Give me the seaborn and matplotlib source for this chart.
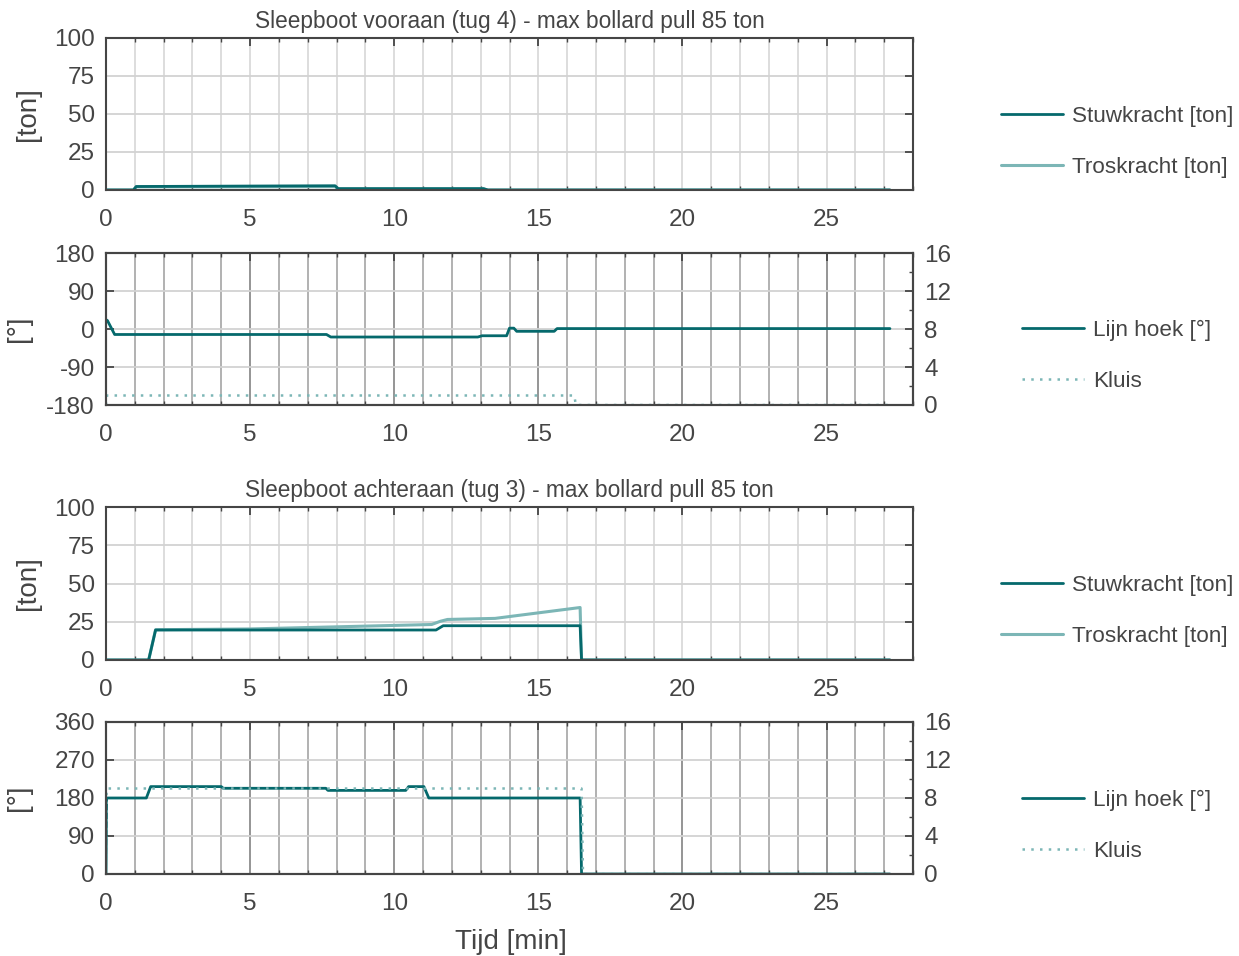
import matplotlib
matplotlib.use("Agg")
import matplotlib.pyplot as plt
import seaborn as sns
from matplotlib.ticker import MultipleLocator

# -------------------------------
# DATA
# -------------------------------
# tug 4 (vooraan) - forces [ton]
t_stuw_voor = [0, 0.95, 1.05, 5.0, 7.95, 8.05, 13.1, 13.25, 27.2]
stuw_voor = [0, 0, 2.3, 2.6, 2.8, 0.9, 0.9, 0, 0]
t_tros_voor = [0, 0.95, 1.05, 5.0, 7.95, 8.05, 13.1, 13.25, 27.2]
tros_voor = [0, 0, 2.1, 2.1, 2.2, 0.7, 0.7, 0, 0]

# tug 4 (vooraan) - line angle [deg] and kluis
t_hoek_voor = [0, 0.05, 0.3, 7.65, 7.8, 12.9, 13.05, 13.9, 14.0, 14.15, 14.25, 15.55, 15.65, 27.2]
hoek_voor = [22, 20, -13, -13, -19, -19, -16, -16, 2, 2, -5.5, -5.5, 1, 1]
t_kluis_voor = [0, 0.02, 16.25, 16.3, 27.2]
kluis_voor = [0, 1, 1, 0, 0]

# tug 3 (achteraan) - forces [ton]
t_stuw_achter = [0, 1.48, 1.72, 11.45, 11.7, 16.45, 16.5, 27.2]
stuw_achter = [0, 0, 19.6, 19.6, 22.4, 22.4, 0, 0]
t_tros_achter = [0, 1.48, 1.72, 5.0, 11.3, 11.6, 11.85, 13.5, 16.45, 16.5, 27.2]
tros_achter = [0, 0, 19.8, 20.3, 23.2, 25.3, 26.5, 27.2, 34.3, 0, 0]

# tug 3 (achteraan) - line angle [deg] and kluis
t_hoek_achter = [0, 0.02, 1.4, 1.55, 4.0, 4.07, 7.63, 7.7, 10.4, 10.5, 11.03, 11.2, 16.45, 16.5, 27.2]
hoek_achter = [0, 180, 180, 207, 207, 203, 203, 198, 198, 207, 207, 180, 180, 0, 0]
t_kluis_achter = [0, 0.02, 16.5, 16.55, 27.2]
kluis_achter = [0, 9, 9, 0, 0]

DARK = "#05696c"
LIGHT = "#7cb6b6"
TEXT = "#454545"

sns.set_style("white")
plt.rcParams["font.family"] = ["Liberation Sans", "DejaVu Sans"]
plt.rcParams["axes.unicode_minus"] = False
plt.rcParams["text.color"] = TEXT
plt.rcParams["axes.labelcolor"] = TEXT

W, H = 1239, 956
fig = plt.figure(figsize=(W / 100, H / 100), dpi=100)

TICK_FS = 17.5
LEG_FS = 16.2


def make_axes(top_px, bottom_px):
    return fig.add_axes([106 / W, 1 - bottom_px / H, (913 - 106) / W, (bottom_px - top_px) / H])


def add_legend(ax, handles, labels, x_px, y_px):
    ax.legend(handles, labels, loc="center left", bbox_to_anchor=(x_px / W, 1 - y_px / H),
              bbox_transform=fig.transFigure, frameon=False, fontsize=LEG_FS,
              handlelength=2.75, handletextpad=0.4, labelspacing=1.35)


def style_axes(ax, yticks, twin=False):
    ax.set_xlim(0, 28)
    ax.set_ylim(yticks[0], yticks[-1])
    ax.set_yticks(yticks)
    ax.xaxis.set_major_locator(MultipleLocator(5))
    ax.xaxis.set_minor_locator(MultipleLocator(1))
    ax.set_xticks(range(0, 30, 5))
    ax.tick_params(axis="both", which="major", direction="in", labelsize=TICK_FS, length=6,
                   width=1.3, top=True, right=not twin, colors=TEXT)
    ax.tick_params(axis="x", which="major", pad=14)
    ax.tick_params(axis="y", which="major", pad=8)
    ax.tick_params(axis="x", which="minor", direction="in", length=3, width=1,
                   top=True, bottom=True, colors=TEXT)
    if twin:
        ax.grid(True, which="major", axis="x", color="#8c8c8c", linewidth=1.3)
        ax.grid(True, which="minor", axis="x", color="#ababab", linewidth=1.3)
    else:
        ax.grid(True, which="both", axis="x", color="#dadada", linewidth=1.3)
    ax.grid(True, which="major", axis="y", color="#d2d2d2", linewidth=1.3)
    for s in ax.spines.values():
        s.set_color(TEXT)
        s.set_linewidth(1.5)
    ax.set_xlabel("")


def line(ax, t, v, color, ls="-", lw=2.0, label=None):
    sns.lineplot(x=t, y=v, ax=ax, color=color, linestyle=ls, linewidth=lw,
                 estimator=None, sort=False, label=label, legend=False)


def force_panel(top, bottom, t_s, s, t_t, tr, title, legend_y):
    ax = make_axes(top, bottom)
    line(ax, t_t, tr, LIGHT, lw=2.2, label="Troskracht [ton]")
    line(ax, t_s, s, DARK, lw=2.0, label="Stuwkracht [ton]")
    style_axes(ax, [0, 25, 50, 75, 100])
    ax.set_ylabel("[ton]", fontsize=20)
    ax.yaxis.set_label_coords((41 - 106) / 807, 0.5)
    ax.set_title(title, fontsize=16.3, pad=7)
    h, l = ax.get_legend_handles_labels()
    add_legend(ax, h[::-1], l[::-1], 981, legend_y)
    return ax


def angle_panel(top, bottom, t_h, h_vals, yticks, t_k, k_vals, legend_y, last=False):
    ax = make_axes(top, bottom)
    line(ax, t_h, h_vals, DARK, lw=2.0, label="Lijn hoek [°]")
    style_axes(ax, yticks, twin=True)
    ax.set_ylabel("[°]", fontsize=20)
    ax.yaxis.set_label_coords((32 - 106) / 807, 0.5)
    ax2 = ax.twinx()
    line(ax2, t_k, k_vals, LIGHT, ls=(0, (1, 2.5)), lw=1.8, label="Kluis")
    ax2.set_ylim(0, 16)
    ax2.set_yticks([0, 4, 8, 12, 16])
    ax2.yaxis.set_minor_locator(MultipleLocator(2))
    ax2.tick_params(axis="y", which="major", direction="in", labelsize=TICK_FS, length=6,
                    width=1.3, pad=8, colors=TEXT)
    ax2.tick_params(axis="y", which="minor", direction="in", length=3, width=1, colors=TEXT)
    ax2.set_ylabel("")
    for s in ax2.spines.values():
        s.set_color(TEXT)
        s.set_linewidth(1.5)
    h1, l1 = ax.get_legend_handles_labels()
    h2, l2 = ax2.get_legend_handles_labels()
    add_legend(ax2, h1 + h2, l1 + l2, 1002, legend_y)
    if last:
        ax.set_xlabel("Tijd [min]", fontsize=20)
        ax.xaxis.set_label_coords((511 - 106) / 807, -(929 - 874) / (874 - 722))
    return ax


# -------------------------------
# PANELS
# -------------------------------
force_panel(38, 190, t_stuw_voor, stuw_voor, t_tros_voor, tros_voor,
            "Sleepboot vooraan (tug 4) - max bollard pull 85 ton", 142)
angle_panel(253, 405, t_hoek_voor, hoek_voor, [-180, -90, 0, 90, 180],
            t_kluis_voor, kluis_voor, 356)
force_panel(507, 660, t_stuw_achter, stuw_achter, t_tros_achter, tros_achter,
            "Sleepboot achteraan (tug 3) - max bollard pull 85 ton", 611)
angle_panel(722, 874, t_hoek_achter, hoek_achter, [0, 90, 180, 270, 360],
            t_kluis_achter, kluis_achter, 826, last=True)

fig.savefig("out.png", dpi=100)
